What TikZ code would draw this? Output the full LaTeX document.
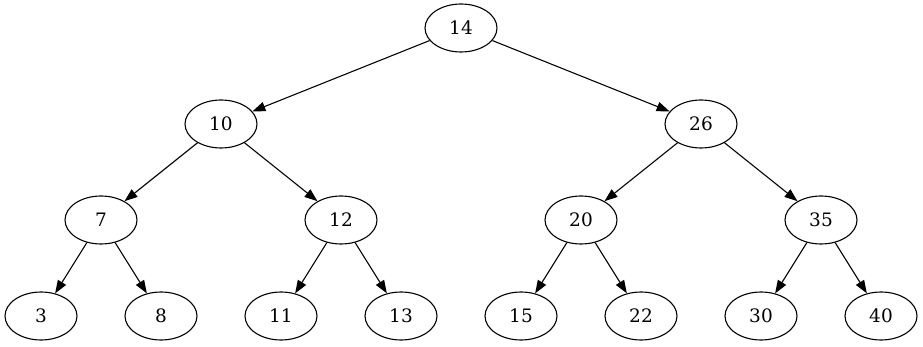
\documentclass[tikz,border=0pt]{standalone}
\usepackage{fontspec}
\setmainfont{DejaVu Serif}
\usetikzlibrary{shapes.geometric,arrows.meta}
\begin{document}
\begin{tikzpicture}[x=1pt,y=-1pt,
  tnode/.style={draw,ellipse,line width=1.1pt,minimum width=72pt,minimum height=48pt,inner sep=0pt,font=\fontsize{18.5}{20}\selectfont},
  edge/.style={line width=1.1pt,-{Triangle[length=13pt,width=9.5pt]}}]
\useasboundingbox (0,0) rectangle (923,347);
\node[tnode] (n14) at (461,28) {14};
\node[tnode] (n10) at (221,124) {10};
\node[tnode] (n26) at (701,124) {26};
\node[tnode] (n7) at (101,220) {7};
\node[tnode] (n12) at (341,220) {12};
\node[tnode] (n20) at (581,220) {20};
\node[tnode] (n35) at (821,220) {35};
\node[tnode] (n3) at (41,316) {3};
\node[tnode] (n8) at (161,316) {8};
\node[tnode] (n11) at (281,316) {11};
\node[tnode] (n13) at (401,316) {13};
\node[tnode] (n15) at (521,316) {15};
\node[tnode] (n22) at (641,316) {22};
\node[tnode] (n30) at (761,316) {30};
\node[tnode] (n40) at (881,316) {40};
\draw[edge] (n14) -- (n10);
\draw[edge] (n14) -- (n26);
\draw[edge] (n10) -- (n7);
\draw[edge] (n10) -- (n12);
\draw[edge] (n26) -- (n20);
\draw[edge] (n26) -- (n35);
\draw[edge] (n7) -- (n3);
\draw[edge] (n7) -- (n8);
\draw[edge] (n12) -- (n11);
\draw[edge] (n12) -- (n13);
\draw[edge] (n20) -- (n15);
\draw[edge] (n20) -- (n22);
\draw[edge] (n35) -- (n30);
\draw[edge] (n35) -- (n40);
\end{tikzpicture}
\end{document}
